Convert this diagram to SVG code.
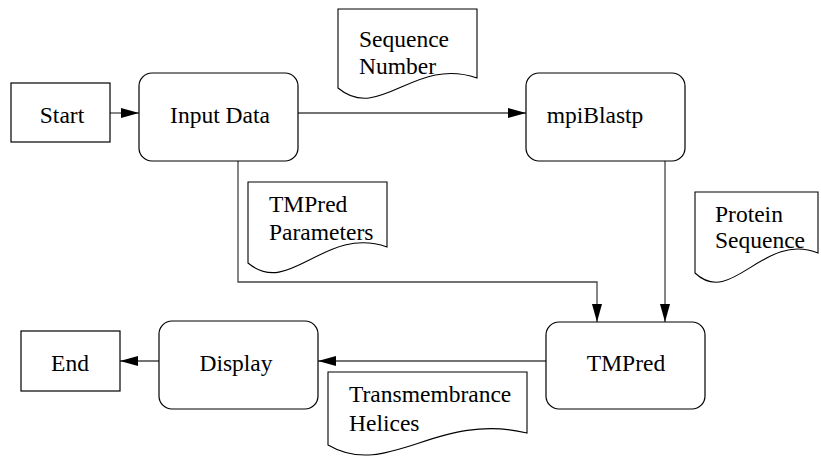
<svg xmlns="http://www.w3.org/2000/svg" width="821" height="457" viewBox="0 0 821 457">
<style>
.box{fill:#fff;stroke:#000;stroke-width:1.2}
.doc{fill:#fff;stroke:#000;stroke-width:1.1}
.t{font-family:'Liberation Serif',Tinos,'Times New Roman','DejaVu Serif',serif;font-size:23.5px;fill:#000}
.c{text-anchor:middle}
.edge{fill:none;stroke:#444;stroke-width:1.3}
</style>
<defs>
<marker id="arr" markerUnits="userSpaceOnUse" markerWidth="20" markerHeight="12" refX="18" refY="5" orient="auto">
<path d="M0,0 L18,5 L0,10 Z" fill="#000"/>
</marker>
</defs>
<rect width="821" height="457" fill="#fff"/>
<g id="connectors">
<path class="edge" d="M110,113 H139" marker-end="url(#arr)"/>
<path class="edge" d="M298,113 H526" marker-end="url(#arr)"/>
<path class="edge" d="M238,161 V282 H597 V322" marker-end="url(#arr)"/>
<path class="edge" d="M665,161 V322" marker-end="url(#arr)"/>
<path class="edge" d="M546,361 H318" marker-end="url(#arr)"/>
<path class="edge" d="M159,361 H120" marker-end="url(#arr)"/>
</g>
<g id="start">
<rect class="box" x="11" y="83" width="99" height="59"/>
<text class="t c" x="62" y="123" font-family="Liberation Serif, serif">Start</text>
</g>
<g id="input-data">
<rect class="box" x="139" y="73" width="159" height="88" rx="13"/>
<text class="t c" x="220" y="123">Input Data</text>
</g>
<g id="mpiblastp">
<rect class="box" x="526" y="73" width="159" height="88" rx="13"/>
<text class="t c" x="595" y="123">mpiBlastp</text>
</g>
<g id="tmpred">
<rect class="box" x="546" y="322" width="159" height="87" rx="13"/>
<text class="t c" x="626" y="371">TMPred</text>
</g>
<g id="display">
<rect class="box" x="159" y="321" width="159" height="88" rx="13"/>
<text class="t c" x="236" y="371">Display</text>
</g>
<g id="end">
<rect class="box" x="21" y="331" width="99" height="60"/>
<text class="t c" x="70" y="371">End</text>
</g>
<g id="doc-sequence-number">
<path class="doc" d="M338,9 H477 V78 C414,56 380,123 338,88 Z"/>
<text class="t" x="359" y="47">Sequence</text>
<text class="t" x="359" y="74">Number</text>
</g>
<g id="doc-tmpred-parameters">
<path class="doc" d="M248,182 H387 V247 C324,225 290,298 248,263 Z"/>
<text class="t" x="269" y="212">TMPred</text>
<text class="t" x="269" y="240">Parameters</text>
</g>
<g id="doc-protein-sequence">
<path class="doc" d="M695,192 H818 V253 C763,231 732,308 695,273 Z"/>
<text class="t" x="715" y="222">Protein</text>
<text class="t" x="715" y="248">Sequence</text>
</g>
<g id="doc-transmembrance-helices">
<path class="doc" d="M328,372 H527 V433 C437,411 388,480 328,445 Z"/>
<text class="t" x="349" y="402">Transmembrance</text>
<text class="t" x="349" y="431">Helices</text>
</g>
</svg>
